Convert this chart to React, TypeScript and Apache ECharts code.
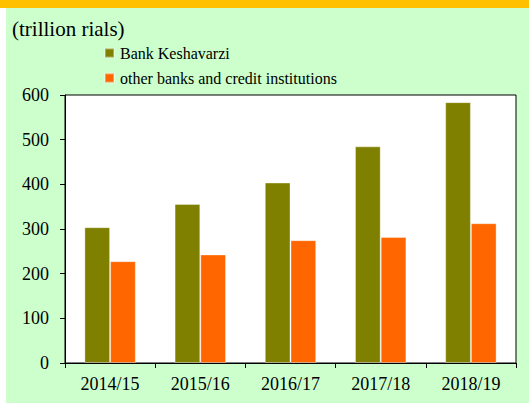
import React, { useEffect, useRef } from "react";
import * as echarts from "echarts";

const categories = ["2014/15", "2015/16", "2016/17", "2017/18", "2018/19"];
const keshavarzi = [304, 356, 404, 485, 584];
const otherBanks = [228, 243, 275, 282, 313];
const seriesNames = ["Bank Keshavarzi", "other banks and credit institutions"];
const unitLabel = "(trillion rials)";

export default function App() {
  const ref = useRef<HTMLDivElement>(null);
  useEffect(() => {
    if (!ref.current) return;
    const chart = echarts.init(ref.current, undefined, { renderer: "svg" });
    const font = "Liberation Serif";
    chart.setOption({
      animation: false,
      backgroundColor: "#ffffff",
      textStyle: { fontFamily: font },
      graphic: [
        { type: "rect", z: -10, shape: { x: 6, y: 8, width: 523, height: 395 }, style: { fill: "#ccffcc" }, silent: true },
        { type: "rect", z: -10, shape: { x: 0, y: 0, width: 529, height: 8 }, style: { fill: "#ffc000" }, silent: true },
        {
          type: "text",
          left: 12,
          top: 18,
          style: { text: unitLabel, fontSize: 21, fontFamily: font, fill: "#000" },
        },
      ],
      legend: {
        orient: "vertical",
        left: 99,
        top: 40,
        itemWidth: 9,
        itemHeight: 9,
        itemGap: 9,
        icon: "rect",
        textStyle: { fontSize: 16, fontFamily: font, color: "#000", padding: [0, 0, 0, 1] },
        data: seriesNames,
      },
      grid: {
        left: 65,
        top: 95,
        right: 13,
        bottom: 41,
        show: true,
        backgroundColor: "#ffffff",
        borderColor: "#000",
        borderWidth: 1,
      },
      xAxis: {
        type: "category",
        data: categories,
        axisLine: { lineStyle: { color: "#000", width: 1 } },
        axisTick: { show: true, length: 5, lineStyle: { color: "#000" } },
        axisLabel: { fontSize: 18, fontFamily: font, color: "#000", margin: 12 },
      },
      yAxis: {
        type: "value",
        min: 0,
        max: 600,
        interval: 100,
        axisLine: { show: true, lineStyle: { color: "#000", width: 1 } },
        axisTick: { show: true, length: 5, lineStyle: { color: "#000" } },
        axisLabel: { fontSize: 18, fontFamily: font, color: "#000", margin: 16 },
        splitLine: { show: false },
      },
      series: [
        {
          name: seriesNames[0],
          type: "bar",
          data: keshavarzi,
          barGap: "0%",
          barCategoryGap: "43%",
          itemStyle: { color: "#808000", borderColor: "rgba(255,255,255,0.35)", borderWidth: 1 },
        },
        {
          name: seriesNames[1],
          type: "bar",
          data: otherBanks,
          barGap: "0%",
          barCategoryGap: "43%",
          itemStyle: { color: "#ff6600", borderColor: "rgba(255,255,255,0.35)", borderWidth: 1 },
        },
      ],
    });
    return () => chart.dispose();
  }, []);
  return (
    <div
      ref={ref}
      style={{ position: "absolute", left: 0, top: 0, width: 529, height: 404 }}
    />
  );
}
